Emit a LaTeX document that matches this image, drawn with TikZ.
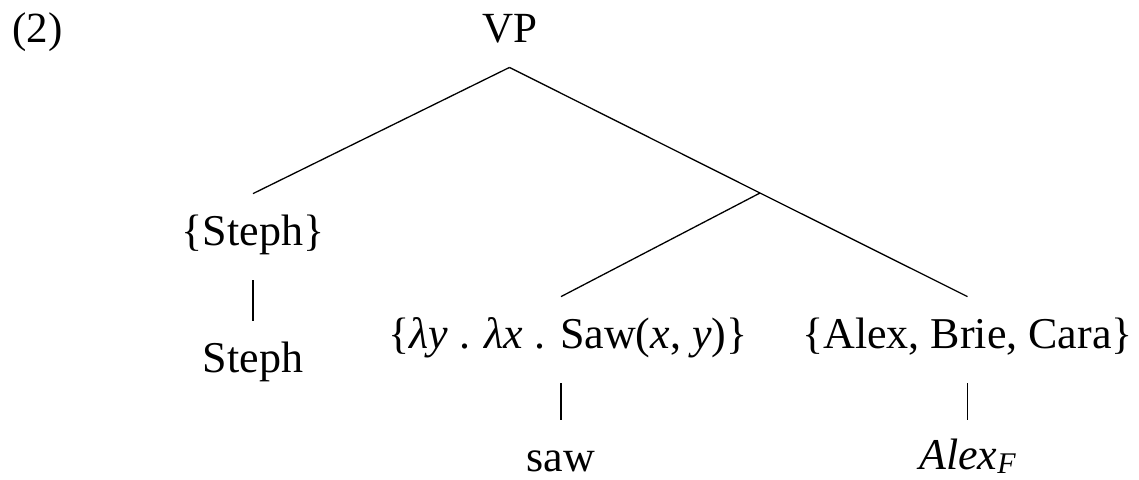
\documentclass[tikz,border=0pt]{standalone}
\usepackage{fontspec}
\setmainfont{Liberation Serif}
\begin{document}
\begin{tikzpicture}[x=0.5pt,y=-0.5pt,
  lbl/.style={inner sep=0pt,anchor=base,font=\fontsize{22pt}{26pt}\selectfont,
    text height=25.5pt,text depth=17.5pt},
  toplbl/.style={inner sep=0pt,anchor=base,font=\fontsize{21.5pt}{26pt}\selectfont,
    text depth=12.5pt},
  branch/.style={line width=0.65pt,black}]
\useasboundingbox (0,0) rectangle (1139,479);
% labels
\node[toplbl] (ex) at (37.5,42) {(2)};
\node[toplbl] (vp) at (509.5,42) {VP};
\node[lbl] (s1) at (253,245) {\{Steph\}};
\node[lbl] (s2) at (253,372) {Steph};
\node[lbl] (lam) at (568,348) {\{{\itshape λy} . {\itshape λx} . Saw(\textit{x}, \textit{y})\}};
\node[lbl] (abc) at (967.5,348) {\{Alex, Brie, Cara\}};
\node[lbl] (saw) at (561,471) {saw};
\node[lbl,text height=24.5pt] (alex) at (967.5,469) {\textit{Alex}\raisebox{-2pt}{\fontsize{15pt}{15pt}\selectfont\itshape F}};
% branching point
\coordinate (j) at (760,193);
% connectors
\draw[branch] (vp.south) -- (s1.north);
\draw[branch] (vp.south) -- (j) -- (abc.north);
\draw[branch] (j) -- ([xshift=-3.5pt]lam.north);
\draw[branch] (s1.south) -- (s2.north);
\draw[branch] ([xshift=-3.5pt]lam.south) -- (saw.north);
\draw[branch] (abc.south) -- (alex.north);
\end{tikzpicture}
\end{document}
